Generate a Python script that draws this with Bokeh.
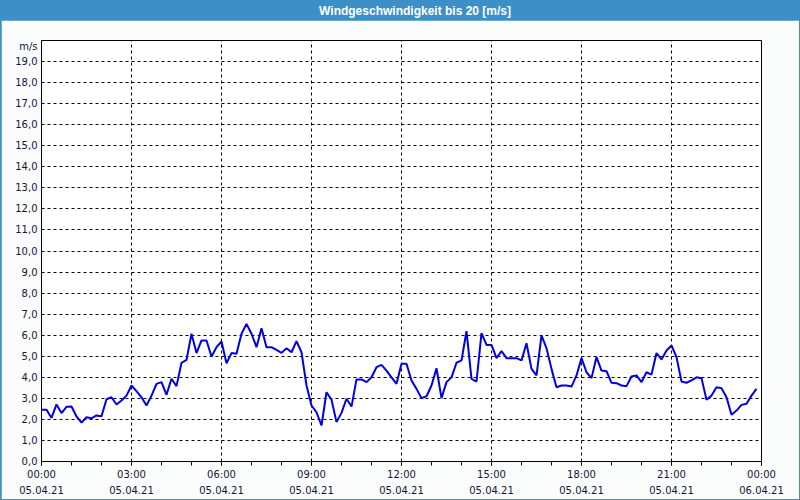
from bokeh.plotting import figure
from bokeh.layouts import column
from bokeh.models import Range1d, FixedTicker, ColumnDataSource
from bokeh.core.properties import value
from bokeh.embed import file_html
from bokeh.resources import INLINE

# Wind speed in m/s, sampled every 10 minutes from 05.04.21 00:00
speed = [2.46, 2.46, 2.07, 2.71, 2.30, 2.60, 2.61, 2.14, 1.85, 2.10,
         2.05, 2.19, 2.15, 2.96, 3.05, 2.71, 2.90, 3.13, 3.61, 3.34,
         3.05, 2.66, 3.13, 3.69, 3.77, 3.17, 3.93, 3.58, 4.69, 4.83,
         6.07, 5.15, 5.75, 5.75, 4.99, 5.43, 5.70, 4.67, 5.15, 5.12,
         6.07, 6.54, 6.07, 5.43, 6.33, 5.43, 5.43, 5.30, 5.16, 5.38,
         5.19, 5.72, 5.19, 3.61, 2.66, 2.34, 1.71, 3.29, 2.93, 1.87,
         2.31, 2.98, 2.61, 3.90, 3.90, 3.77, 4.00, 4.48, 4.59, 4.32,
         4.00, 3.69, 4.64, 4.64, 3.85, 3.45, 3.01, 3.10, 3.61, 4.43,
         3.01, 3.77, 4.00, 4.69, 4.80, 6.19, 3.93, 3.80, 6.10, 5.54,
         5.54, 4.91, 5.24, 4.91, 4.91, 4.91, 4.80, 5.62, 4.40, 4.09,
         5.99, 5.38, 4.40, 3.53, 3.61, 3.61, 3.56, 4.09, 4.91, 4.24,
         3.96, 4.96, 4.32, 4.29, 3.74, 3.72, 3.61, 3.58, 4.04, 4.09,
         3.77, 4.24, 4.13, 5.15, 4.85, 5.27, 5.51, 4.96, 3.80, 3.74,
         3.85, 4.00, 3.96, 2.93, 3.13, 3.53, 3.48, 3.05, 2.22, 2.42,
         2.69, 2.74, 3.13, 3.45]
sample_minutes = 10
hours = [i * sample_minutes / 60 for i in range(len(speed))]

x_ticks = [0, 3, 6, 9, 12, 15, 18, 21, 24]
x_tick_labels = ["00:00\n05.04.21", "03:00\n05.04.21", "06:00\n05.04.21",
                 "09:00\n05.04.21", "12:00\n05.04.21", "15:00\n05.04.21",
                 "18:00\n05.04.21", "21:00\n05.04.21", "00:00\n06.04.21"]
x_minor = list(range(0, 25))
y_ticks = list(range(0, 20))
y_tick_labels = ["0,0", "1,0", "2,0", "3,0", "4,0", "5,0", "6,0", "7,0", "8,0", "9,0",
                 "10,0", "11,0", "12,0", "13,0", "14,0", "15,0", "16,0", "17,0", "18,0", "19,0"]
unit_text = "m/s"
unit_pos = 19.72  # the unit sits just below the top of the value axis
title_text = "Windgeschwindigkeit bis 20 [m/s]"

BLUE_BAR = "#3D8FC7"
TXT = "#14143A"
FONT = "DejaVu Sans"
INNER_W = 798

# ---- title bar ----
tb = figure(width=INNER_W, height=20, output_backend="svg", toolbar_location=None,
            x_range=Range1d(0, INNER_W), y_range=Range1d(0, 20),
            x_axis_type=None, y_axis_type=None,
            min_border_left=0, min_border_right=0, min_border_top=0, min_border_bottom=0)
tb.background_fill_color = BLUE_BAR
tb.border_fill_color = BLUE_BAR
tb.outline_line_color = None
tb.grid.visible = False
tb.text(x=[414], y=[10], text=[title_text], text_align="center",
        text_baseline="middle", text_color="white", text_font=value("Liberation Sans"),
        text_font_style="bold", text_font_size="12px")

# ---- chart ----
p = figure(width=INNER_W, height=479, output_backend="svg", toolbar_location=None,
           x_range=Range1d(0, 24), y_range=Range1d(0, 20),
           min_border_left=40, min_border_right=38, min_border_top=20, min_border_bottom=38)
p.background_fill_color = "white"
p.border_fill_color = "#FBFDFC"
p.outline_line_color = "black"
p.outline_line_width = 1

src = ColumnDataSource(dict(t=hours, v=speed))
p.line("t", "v", source=src, line_color="#0000E6", line_width=2)

xa = p.xaxis[0]
xa.ticker = FixedTicker(ticks=x_ticks, minor_ticks=x_minor)
xa.major_label_overrides = {t: l for t, l in zip(x_ticks, x_tick_labels)}
xa.axis_line_color = "black"
xa.major_tick_line_color = "black"
xa.minor_tick_line_color = "black"
xa.major_tick_in = 0
xa.major_tick_out = 4
xa.minor_tick_in = 0
xa.minor_tick_out = 4
xa.major_label_standoff = 3
xa.major_label_text_font = FONT
xa.major_label_text_font_size = "10px"
xa.major_label_text_color = TXT
xa.major_label_text_line_height = 1.5

ya = p.yaxis[0]
ya.ticker = FixedTicker(ticks=y_ticks + [unit_pos])
overrides = {t: l for t, l in zip(y_ticks, y_tick_labels)}
overrides[unit_pos] = unit_text
ya.major_label_overrides = overrides
ya.axis_line_color = "black"
ya.major_tick_in = 0
ya.major_tick_out = 0
ya.minor_tick_line_color = None
ya.major_label_standoff = 4
ya.major_label_text_font = FONT
ya.major_label_text_font_size = "10px"
ya.major_label_text_color = TXT

p.xgrid.ticker = FixedTicker(ticks=x_ticks)
p.ygrid.ticker = FixedTicker(ticks=y_ticks)
for g in (p.xgrid[0], p.ygrid[0]):
    g.grid_line_color = "black"
    g.grid_line_dash = "3 3"
    g.grid_line_width = 1

layout = column(tb, p, spacing=0,
                styles={"border-left": f"1px solid {BLUE_BAR}",
                        "border-right": f"1px solid {BLUE_BAR}",
                        "border-bottom": f"1px solid {BLUE_BAR}",
                        "background-color": BLUE_BAR})

open("out.html", "w").write(file_html(layout, INLINE))
